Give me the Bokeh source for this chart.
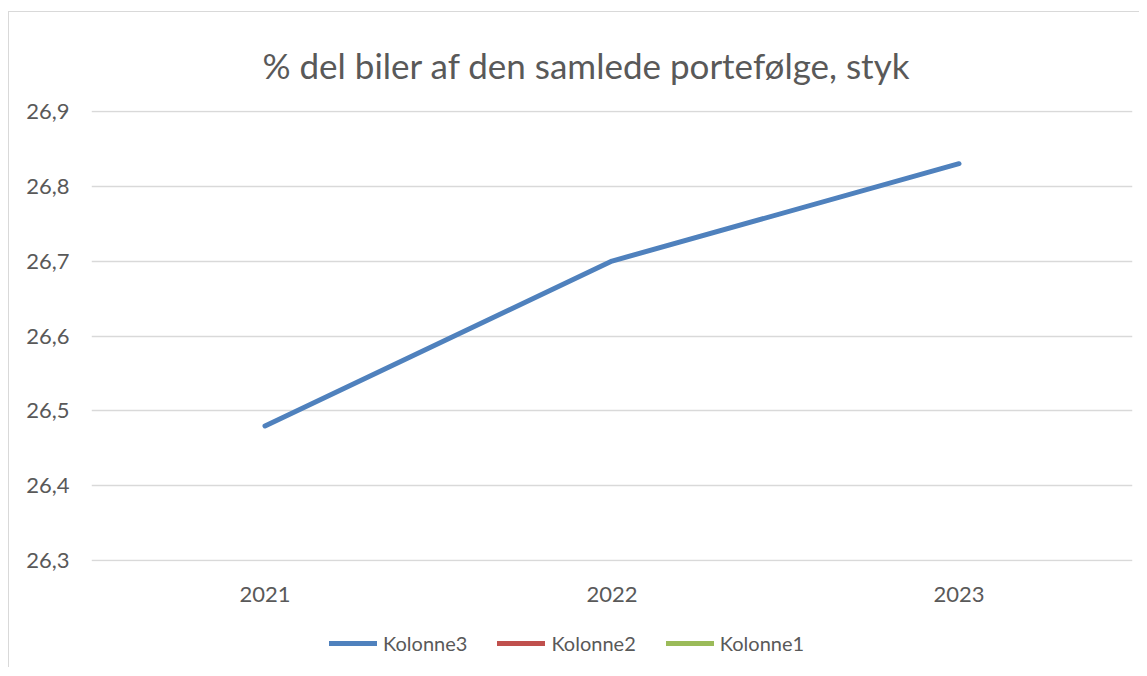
from bokeh.plotting import figure
from bokeh.layouts import column
from bokeh.models import FixedTicker, Legend, LegendItem
from bokeh.embed import file_html
from bokeh.resources import INLINE

nan = float("nan")
years = ["2021", "2022", "2023"]
kolonne3 = [26.48, 26.70, 26.83]
kolonne2 = [nan, nan, nan]
kolonne1 = [nan, nan, nan]
y_ticks = [26.3, 26.4, 26.5, 26.6, 26.7, 26.8, 26.9]
y_tick_labels = ["26,3", "26,4", "26,5", "26,6", "26,7", "26,8", "26,9"]

FONT = "Lato"
TXT = "#595959"
COLORS = {"Kolonne3": "#4f81bd", "Kolonne2": "#c0504d", "Kolonne1": "#9bbb59"}

p = figure(x_range=years, y_range=(26.299, 26.901), width=1130, height=610,
           output_backend="svg", toolbar_location=None,
           min_border_left=82, min_border_right=7, min_border_top=98,
           min_border_bottom=61)
p.x_range.range_padding = 0
p.outline_line_color = None

p.title.text = "% del biler af den samlede portefølge, styk"
p.title.text_font = FONT
p.title.text_font_size = "35px"
p.title.text_font_style = "normal"
p.title.text_color = TXT
p.title.align = "left"
p.title.offset = 171
p.title.standoff = 49

p.xgrid.grid_line_color = None
p.ygrid.grid_line_color = "#d9d9d9"
p.ygrid.grid_line_width = 1.5
p.yaxis.ticker = FixedTicker(ticks=y_ticks)
p.yaxis.major_label_overrides = {t: l for t, l in zip(y_ticks, y_tick_labels)}

for ax in (p.xaxis[0], p.yaxis[0]):
    ax.axis_line_color = None
    ax.major_tick_line_color = None
    ax.minor_tick_line_color = None
    ax.major_label_text_font = FONT
    ax.major_label_text_font_size = "22px"
    ax.major_label_text_color = TXT
p.yaxis.major_label_standoff = 16
p.xaxis.major_label_standoff = 19

series = [("Kolonne3", kolonne3), ("Kolonne2", kolonne2), ("Kolonne1", kolonne1)]
for name, vals in series:
    p.line(years, vals, line_color=COLORS[name], line_width=5,
           line_cap="round", line_join="round")

# legend strip below the chart (same series, drawn out of view in the strip)
lf = figure(x_range=years, y_range=(0, 1), width=1130, height=45,
            output_backend="svg", toolbar_location=None,
            x_axis_location=None, y_axis_location=None, min_border=0)
lf.outline_line_color = None
lf.grid.grid_line_color = None
items = []
for name, vals in series:
    r = lf.line(years, vals, line_color=COLORS[name], line_width=5, line_cap="round")
    items.append(LegendItem(label=name, renderers=[r]))

legend = Legend(items=items, orientation="horizontal", location=(238, 12),
                border_line_color=None, background_fill_alpha=0,
                glyph_width=48, glyph_height=20, label_standoff=6, spacing=30,
                padding=0, margin=0,
                label_text_font=FONT, label_text_font_size="20px", label_text_color=TXT)
lf.add_layout(legend, "center")

layout = column(p, lf, spacing=0)
layout.styles = {"border-left": "1px solid #d9d9d9", "border-top": "1px solid #d9d9d9",
                 "margin-top": "11px", "margin-left": "8px"}

open("out.html", "w").write(file_html(layout, INLINE))
